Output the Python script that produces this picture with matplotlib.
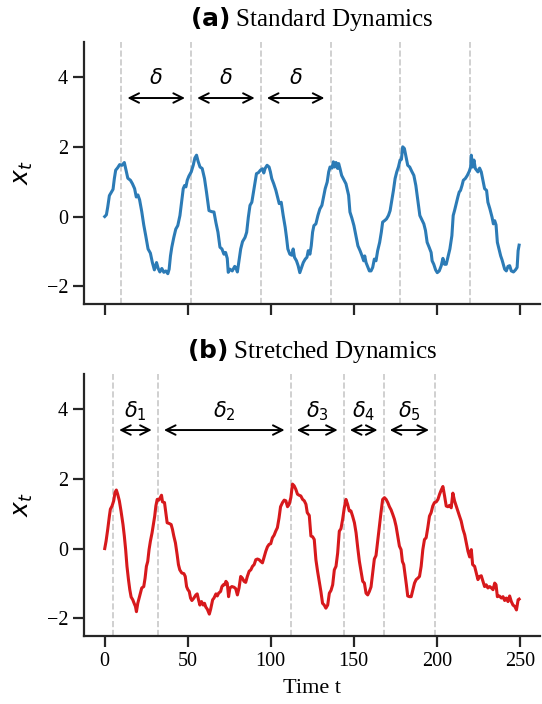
import matplotlib
matplotlib.use("Agg")
import matplotlib.pyplot as plt

# values
t_a = [0, 1, 1.8, 2.8, 4, 5, 5.8, 6.6, 7.8, 9, 10.4, 11.8, 12.6, 13.9, 15.5, 16.7, 18, 19, 20, 21,
       22.3, 23.5, 24.7, 26.1, 27.5, 28.7, 29.9, 31.2, 32.2, 33.2, 34.4, 35.6, 36.8, 38, 38.8, 39.6,
       40.4, 41.6, 42.8, 44, 45.3, 46.3, 47.3, 48.1, 48.9, 49.7, 50.7, 52.1, 53.3, 54.3, 55.3, 56.2,
       57.4, 58.7, 60.1, 61.3, 62.8, 64.4, 65.8, 67, 68.2, 69.4, 70.6, 71.8, 72.8, 73.8, 74.4, 75.4,
       76.8, 78.3, 78.9, 79.9, 80.9, 81.9, 83, 84.5, 85.5, 86.5, 87.5, 88.6, 89.6, 90.6, 91.4, 92.6,
       93.8, 95, 95.8, 96.6, 97.8, 99, 99.8, 100.6, 101.8, 103.1, 104.1, 105.1, 106.3, 107.5, 108.7,
       109.5, 110.3, 111.5, 112.7, 113.5, 114.3, 115.5, 116.5, 117.5, 118.6, 119.6, 120.8, 121.8,
       122.6, 123.6, 124.4, 125.2, 126, 127.2, 128.4, 129.6, 130.8, 131.8, 132.8, 134, 134.9, 135.7,
       136.9, 137.7, 138.5, 139.3, 140.3, 140.9, 141.7, 142.7, 143.7, 145.3, 146.9, 147.7, 148.9,
       150.1, 151.3, 152.5, 153.8, 155, 156, 156.6, 157.4, 158.6, 159.4, 160.4, 161.4, 162.4, 163.4,
       164.4, 165.6, 166.6, 167.4, 168.5, 169.7, 170.9, 171.9, 172.9, 173.9, 174.9, 175.9, 176.9,
       177.9, 178.7, 179.5, 180.5, 181.5, 182.5, 183.7, 184.9, 186.2, 187.4, 188.6, 189.8, 191,
       192.2, 193.2, 194.2, 195.4, 196.6, 197.2, 198.2, 199.3, 200.3, 201.5, 202.7, 203.7, 204.7,
       205.7, 206.7, 207.9, 209.1, 209.9, 210.7, 211.7, 212.7, 213.5, 214.3, 215.2, 216, 217.2,
       218.4, 219.6, 220.4, 220.8, 221.6, 222.4, 223.2, 224, 224.8, 225.8, 226.8, 227.8, 228.8, 230,
       230.8, 232, 233.3, 234.1, 234.9, 235.7, 236.5, 237.5, 238.5, 239.3, 240.1, 240.9, 241.9,
       242.9, 243.9, 244.9, 246.2, 247.4, 248.4, 249, 249.6]
x_a = [0.0, 0.05, 0.27, 0.6, 0.7, 0.78, 1.09, 1.33, 1.4, 1.49, 1.47, 1.55, 1.38, 1.1, 1.04, 0.94, 0.8,
       0.56, 0.62, 0.48, 0.14, -0.24, -0.55, -0.93, -1.05, -1.32, -1.53, -1.32, -1.49, -1.59, -1.49,
       -1.6, -1.56, -1.64, -1.51, -1.13, -0.88, -0.6, -0.36, -0.26, 0.03, 0.41, 0.8, 0.89, 0.85, 1.04,
       1.16, 1.28, 1.47, 1.68, 1.76, 1.59, 1.42, 1.38, 1.09, 0.7, 0.17, 0.14, 0.13, -0.18, -0.45,
       -0.88, -0.93, -1.08, -1.03, -1.2, -1.6, -1.51, -1.56, -1.43, -1.46, -1.59, -1.27, -0.93, -0.72,
       -0.6, -0.45, -0.02, 0.32, 0.41, 0.7, 0.99, 1.23, 1.26, 1.33, 1.37, 1.25, 1.38, 1.47, 1.42, 1.28,
       1.09, 0.94, 0.75, 0.56, 0.37, 0.41, 0.03, -0.31, -0.6, -0.93, -1.08, -1.11, -0.93, -1.17, -1.27,
       -1.41, -1.61, -1.46, -1.32, -1.22, -1.17, -0.98, -1.08, -0.84, -0.45, -0.26, -0.21, 0.03, 0.22,
       0.32, 0.56, 0.8, 0.99, 1.28, 1.42, 1.39, 1.57, 1.42, 1.55, 1.38, 1.52, 1.38, 1.18, 1.09, 0.94,
       0.61, 0.13, -0.05, -0.26, -0.55, -0.84, -0.98, -1.13, -1.27, -1.13, -1.32, -1.46, -1.56, -1.56,
       -1.46, -1.22, -1.27, -0.98, -0.74, -0.45, -0.16, -0.12, -0.07, 0.03, 0.17, 0.46, 0.75, 1.09,
       1.28, 1.42, 1.62, 1.64, 2.0, 1.95, 1.71, 1.47, 1.42, 1.3, 1.18, 0.89, 0.46, 0.03, -0.09, -0.21,
       -0.4, -0.74, -0.88, -1.03, -1.27, -1.37, -1.53, -1.61, -1.56, -1.41, -1.2, -1.37, -1.37, -1.17,
       -0.93, -0.55, 0.03, 0.17, 0.37, 0.56, 0.7, 0.75, 0.89, 1.04, 1.09, 1.18, 1.3, 1.42, 1.76, 1.42,
       1.62, 1.38, 1.33, 1.28, 1.39, 1.28, 1.04, 0.8, 0.75, 0.41, 0.22, -0.02, -0.21, -0.12, -0.24,
       -0.74, -0.93, -1.13, -1.24, -1.37, -1.51, -1.56, -1.43, -1.41, -1.56, -1.59, -1.53, -1.46,
       -0.98, -0.82]

t_b = [0, 0.8, 1.8, 2.8, 3.4, 4.4, 5.4, 6.2, 7, 7.8, 8.8, 9.8, 11, 11.8, 12.6, 13.4, 14.3, 15.1, 15.9,
       16.9, 17.7, 18.5, 19.1, 19.9, 20.7, 21.5, 22.3, 23.5, 24.3, 25.1, 25.9, 26.7, 27.5, 28.5, 29.5,
       30.1, 30.8, 31.6, 32.6, 33.2, 34.2, 34.8, 36, 36.8, 37.6, 38.8, 40, 40.8, 41.6, 42.6, 43.6,
       44.4, 45.2, 46.4, 47.7, 48.5, 49.3, 50.1, 50.9, 51.7, 52.5, 53.7, 54.9, 55.7, 56.5, 57.3, 58.3,
       59.3, 60.1, 60.9, 61.8, 63, 63.8, 65, 65.8, 67, 67.8, 68.6, 69.8, 70.6, 71.4, 72.2, 73, 73.8,
       74.6, 75.4, 76.6, 77.9, 78.9, 79.9, 80.9, 81.9, 82.9, 83.9, 84.9, 85.9, 87, 88, 89, 90, 91, 92,
       93, 94, 95, 96, 97, 98, 99, 100, 101, 102, 103, 104, 105, 105.9, 107.1, 108.1, 109.1, 110.1,
       111.1, 112.1, 113.1, 114.1, 115.1, 116.1, 117.1, 118.1, 119.2, 120.2, 121.2, 122, 123.2, 124.2,
       125.2, 126.2, 127.2, 128.2, 129.2, 130.2, 131.2, 132.2, 133.2, 134.3, 135.3, 136.3, 137.3,
       138.3, 139.3, 140.3, 141.3, 142.3, 143.3, 144.3, 145.3, 146.3, 147.3, 148.3, 149.3, 150.4,
       151.4, 152.4, 153.4, 154.4, 155.4, 156.4, 157.4, 158.4, 159.4, 160.4, 161.4, 162.4, 163.4,
       164.4, 165.4, 166.4, 167.4, 168.5, 169.5, 170.5, 171.5, 172.5, 173.5, 174.5, 175.5, 176.5,
       177.5, 178.5, 179.3, 180.1, 180.9, 181.7, 182.5, 183.5, 184.6, 185.6, 186.6, 187.6, 188.6,
       189.6, 190.6, 191.6, 192.6, 193.6, 194.6, 195.6, 196.6, 197.6, 198.6, 199.7, 200.7, 201.7,
       202.7, 203.7, 204.7, 205.7, 206.7, 207.7, 208.7, 209.7, 210.7, 211.7, 212.7, 213.7, 214.7,
       215.8, 216.8, 217.8, 218.8, 219.8, 220.8, 221.6, 222.8, 223.8, 224.8, 225.8, 226.8, 227.8,
       228.8, 229.8, 230.8, 231.9, 232.9, 233.9, 234.9, 235.7, 236.5, 237.7, 238.9, 239.9, 240.9,
       241.9, 242.9, 243.9, 244.9, 245.9, 247, 248, 249, 249.6]
x_b = [0.0, 0.21, 0.55, 0.93, 1.13, 1.22, 1.37, 1.61, 1.68, 1.56, 1.37, 1.08, 0.69, 0.36, -0.03,
       -0.51, -0.89, -1.18, -1.39, -1.47, -1.57, -1.66, -1.81, -1.57, -1.42, -1.28, -1.13, -1.09,
       -0.85, -0.51, -0.37, -0.03, 0.21, 0.45, 0.74, 0.93, 1.22, 1.41, 1.39, 1.44, 1.53, 1.34, 1.32,
       1.03, 0.74, 0.72, 0.69, 0.55, 0.36, 0.16, -0.17, -0.46, -0.61, -0.7, -0.72, -0.8, -1.09, -1.18,
       -1.23, -1.42, -1.49, -1.42, -1.33, -1.3, -1.47, -1.62, -1.52, -1.62, -1.57, -1.68, -1.74,
       -1.88, -1.74, -1.47, -1.42, -1.3, -1.36, -1.28, -1.23, -1.09, -1.04, -1.04, -0.94, -0.99,
       -1.38, -1.13, -1.09, -1.11, -1.15, -1.33, -1.13, -0.8, -0.85, -0.94, -0.97, -0.8, -0.65, -0.61,
       -0.51, -0.46, -0.32, -0.3, -0.32, -0.37, -0.41, -0.24, -0.08, 0.05, 0.12, 0.14, 0.31, 0.38, 0.5,
       0.6, 0.88, 1.2, 1.32, 1.39, 1.37, 1.2, 1.27, 1.46, 1.85, 1.8, 1.7, 1.56, 1.53, 1.51, 1.41, 1.37,
       1.27, 1.03, 0.95, 0.36, 0.34, 0.26, -0.32, -0.65, -0.94, -1.23, -1.57, -1.62, -1.71, -1.62,
       -1.28, -1.2, -1.04, -0.61, -0.51, -0.13, 0.5, 0.57, 0.84, 1.17, 1.41, 1.27, 1.08, 1.08, 0.93,
       0.74, 0.45, 0.02, -0.37, -0.65, -0.94, -0.99, -1.28, -1.33, -1.23, -1.1, -0.7, -0.3, -0.2,
       0.21, 0.64, 1.03, 1.41, 1.46, 1.41, 1.32, 1.2, 1.11, 0.98, 0.84, 0.64, 0.36, 0.07, -0.03, -0.37,
       -0.46, -0.75, -1.04, -1.36, -1.38, -1.38, -1.18, -0.99, -0.89, -0.85, -0.8, -0.51, -0.03, 0.26,
       0.31, 0.6, 0.93, 1.03, 1.22, 1.32, 1.34, 1.41, 1.56, 1.68, 1.78, 1.51, 1.22, 1.2, 1.24, 1.17,
       1.59, 1.37, 1.22, 1.08, 0.93, 0.79, 0.55, 0.4, 0.16, -0.08, -0.24, -0.03, -0.46, -0.51, -0.7,
       -0.89, -0.8, -0.78, -0.94, -1.09, -1.04, -1.13, -1.09, -1.13, -1.18, -0.99, -1.04, -1.38,
       -1.36, -1.42, -1.38, -1.49, -1.42, -1.52, -1.36, -1.52, -1.62, -1.66, -1.76, -1.47, -1.45]

peaks_a = [10, 52, 94, 136, 178, 220]
peaks_b = [5, 32, 112, 144, 168, 199]
labels_a = [r'$\delta$', r'$\delta$', r'$\delta$']
labels_b = [r'$\delta_1$', r'$\delta_2$', r'$\delta_3$', r'$\delta_4$', r'$\delta_5$']
titles = [r'$\bf{(a)}$ Standard Dynamics', r'$\bf{(b)}$ Stretched Dynamics']
colors = ['#2c7bb6', '#d7191c']

plt.rcParams['font.family'] = 'serif'
plt.rcParams['font.serif'] = ['Liberation Serif', 'DejaVu Serif']
plt.rcParams['mathtext.fontset'] = 'dejavusans'

fig, axes = plt.subplots(2, 1, figsize=(5.42, 7.04), dpi=100, sharex=True)
fig.subplots_adjust(left=0.155, right=0.996, top=0.94, bottom=0.097, hspace=0.27)

series = [(t_a, x_a, peaks_a, labels_a), (t_b, x_b, peaks_b, labels_b)]
for ax, (t, x, peaks, labs), title, c in zip(axes, series, titles, colors):
    for p in peaks:
        ax.axvline(p, color='#c8c8c8', ls='--', lw=1.2, zorder=0)
    ax.plot(t, x, color=c, lw=2.2)
    for i, lab in enumerate(labs):
        p1, p2 = peaks[i], peaks[i + 1]
        ax.annotate('', xy=(p2 - 2, 3.4), xytext=(p1 + 2, 3.4),
                    arrowprops=dict(arrowstyle='<->', color='black', lw=1.4,
                                    mutation_scale=17))
        ax.text((p1 + p2) / 2, 3.95, lab, ha='center', va='center', fontsize=15)
    ax.set_ylim(-2.5, 5)
    ax.set_yticks([-2, 0, 2, 4])
    ax.set_ylabel(r'$x_t$', fontsize=18, labelpad=8)
    ax.set_title(title, fontsize=18, pad=12)
    for s in ['top', 'right']:
        ax.spines[s].set_visible(False)
    for s in ['left', 'bottom']:
        ax.spines[s].set_linewidth(1.6)
        ax.spines[s].set_color('#262626')
    ax.tick_params(length=8, width=1.6, color='#262626', labelsize=14.5)

axes[1].set_xticks([0, 50, 100, 150, 200, 250])
axes[1].set_xlabel('Time t', fontsize=16, labelpad=6)

plt.savefig('out.png')
